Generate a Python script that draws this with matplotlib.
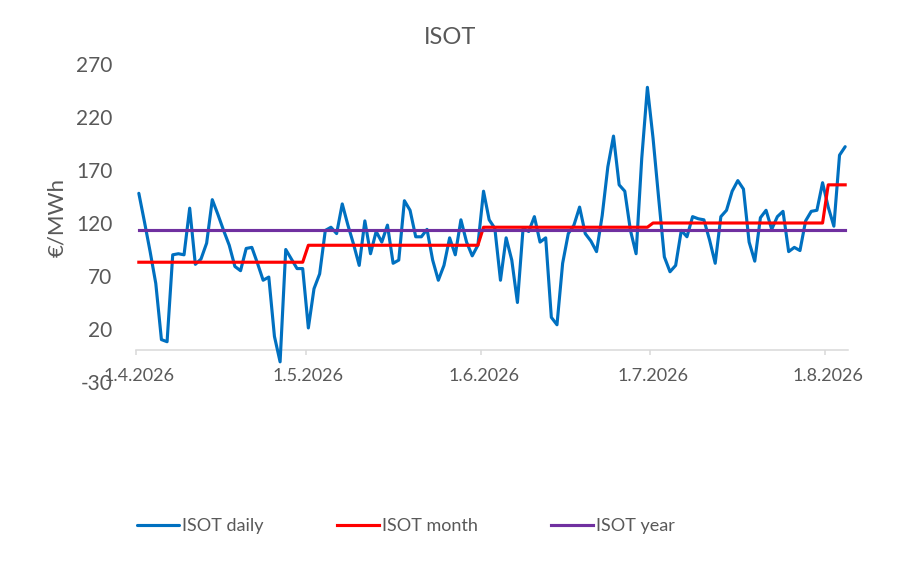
import matplotlib
matplotlib.use("Agg")
import matplotlib.pyplot as plt
import numpy as np

# ---------------- data ----------------
start_date = "2026-04-01"
daily_apr = [148, 121, 93, 63, 10, 8, 90, 91, 90, 134, 81, 86, 101, 142, 128,
             113, 99, 79, 75, 96, 97, 82, 66, 69, 13, -11, 95, 86, 77, 77]
daily_may = [21, 58, 72, 113, 116, 110, 138, 118, 100, 80, 122, 91, 112, 102, 118,
             82, 85, 141, 132, 107, 107, 114, 85, 66, 80, 106, 90, 123, 102, 89, 99]
daily_jun = [150, 123, 115, 66, 106, 85, 45, 115, 112, 126, 102, 106, 31, 24, 82,
             110, 118, 135, 110, 103, 93, 127, 173, 202, 156, 150, 113, 91, 181, 248]
daily_jul = [200, 143, 88, 74, 80, 113, 107, 126, 124, 123, 104, 82, 126, 132, 150,
             160, 152, 102, 84, 125, 132, 114, 126, 131, 93, 97, 94, 122, 131, 132, 158]
daily_aug = [135, 117, 184, 192]
isot_daily = daily_apr + daily_may + daily_jun + daily_jul + daily_aug

month_keys = ["2026-04", "2026-05", "2026-06", "2026-07", "2026-08"]
isot_month = [83, 99, 116, 120, 156]
isot_year = 113

tick_dates = ["2026-04-01", "2026-05-01", "2026-06-01", "2026-07-01", "2026-08-01"]
tick_labels = ["1.4.2026", "1.5.2026", "1.6.2026", "1.7.2026", "1.8.2026"]
y_ticks = [-30, 20, 70, 120, 170, 220, 270]
x_end = "2026-08-05"

# ---------------- derived series ----------------
dates = np.datetime64(start_date) + np.arange(len(isot_daily)).astype("timedelta64[D]")
x = dates.astype("datetime64[h]") + np.timedelta64(12, "h")
month_map = dict(zip(month_keys, isot_month))
month_series = [month_map[str(d)[:7]] for d in dates]
year_series = [isot_year] * len(dates)

# ---------------- plot ----------------
plt.rcParams['font.family'] = ['Lato', 'DejaVu Sans']
plt.rcParams['axes.unicode_minus'] = False
text_col = '#595959'
axis_col = '#D9D9D9'

fig = plt.figure(figsize=(9, 5.73), dpi=100)
ax = fig.add_axes([136/900, 1-382/573, 712/900, 318/573])

ax.plot(x, isot_daily, color='#0070C0', lw=2.25, label='ISOT daily',
        solid_joinstyle='round', solid_capstyle='round')
ax.plot(x, month_series, color='#FF0000', lw=2.25, label='ISOT month')
ax.plot(x, year_series, color='#7030A0', lw=2.25, label='ISOT year')

ax.set_xlim(np.datetime64(start_date), np.datetime64(x_end))
ax.set_ylim(-30, 270)

for s in ['top', 'right', 'left']:
    ax.spines[s].set_visible(False)
ax.spines['bottom'].set_position(('data', 0))
ax.spines['bottom'].set_color(axis_col)
ax.spines['bottom'].set_linewidth(1.1)
ax.spines['bottom'].set_zorder(0.5)

ax.set_yticks(y_ticks)
ax.tick_params(axis='y', length=0, pad=17, labelsize=15, labelcolor=text_col)

major = np.array(tick_dates, dtype="datetime64[h]")
ax.set_xticks(major)
ax.set_xticklabels([""] * len(major))
ax.set_xticks(major + np.timedelta64(12, "h"), minor=True)
ax.set_xticklabels(tick_labels, minor=True)
ax.tick_params(axis='x', which='major', length=3.6, width=1.1, color=axis_col)
ax.tick_params(axis='x', which='minor', length=0, pad=12.5, labelsize=13,
               labelcolor=text_col)

fig.text(450/900, 1-37/573, 'ISOT', ha='center', va='center',
         fontsize=17, color=text_col)
fig.text(57/900, 1-218/573, '€/MWh', rotation=90, ha='center', va='center',
         fontsize=16, color=text_col)

fig.legend(loc='center', bbox_to_anchor=(406/900, 1-526/573), ncol=3,
           frameon=False, fontsize=13, labelcolor=text_col,
           handlelength=2.33, handletextpad=0.17, columnspacing=4.04)

fig.savefig("out.png", dpi=100)
